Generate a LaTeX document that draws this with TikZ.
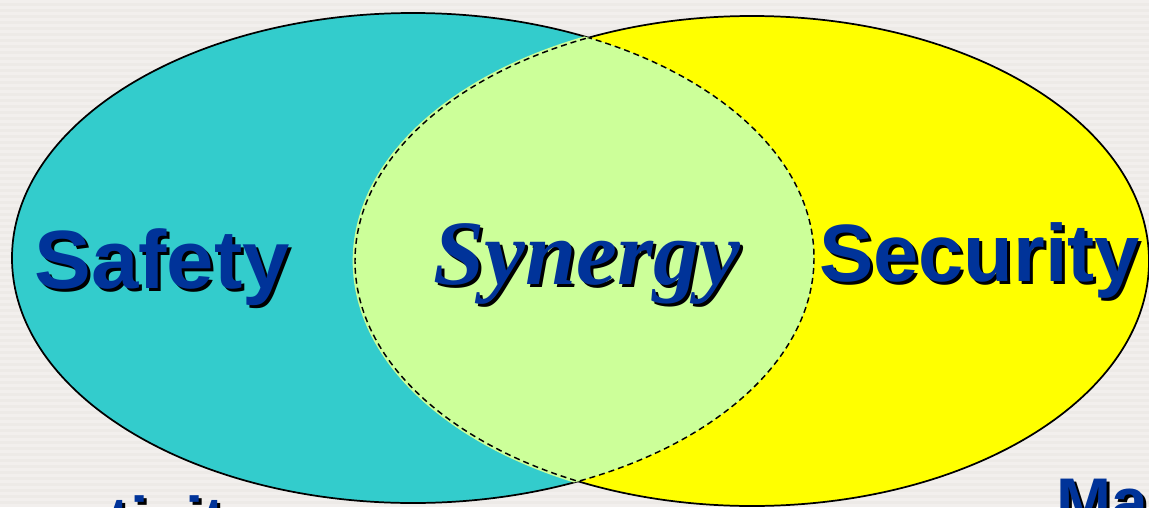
\documentclass[tikz,border=0pt]{standalone}
\usepackage{fontspec}
\setmainfont{Liberation Sans}
\newfontfamily\synfont{Liberation Serif}
\definecolor{bgcol}{HTML}{EDEAE7}
\definecolor{stripecol}{HTML}{F2EFED}
\definecolor{teal}{HTML}{33CCCC}
\definecolor{yel}{HTML}{FFFF00}
\definecolor{lens}{HTML}{CCFF99}
\definecolor{txtblue}{HTML}{003399}
\tikzset{
  outline/.style={draw=black, line width=1.3pt},
  lensline/.style={draw=black, line width=1.1pt, dash pattern=on 4.5pt off 3pt},
  bigtxt/.style={inner sep=0pt, xscale=1.03, font=\bfseries\fontsize{62}{62}\selectfont},
  sectxt/.style={inner sep=0pt, font=\bfseries\fontsize{61}{61}\selectfont},
  syntxt/.style={inner sep=0pt, font=\synfont\bfseries\itshape\fontsize{69}{69}\selectfont},
  smalltxt/.style={inner sep=0pt, font=\bfseries\fontsize{49.5}{49.5}\selectfont},
  shadowtxt/.style={text=black},
  fronttxt/.style={text=txtblue}
}
\begin{document}
\begin{tikzpicture}[x=0.75pt,y=-0.75pt]
\useasboundingbox (0,0) rectangle (1149,507);
\clip (0,0) rectangle (1149,507);
\fill[bgcol] (0,0) rectangle (1149,507);
\foreach \yy in {0,6,...,504} { \fill[stripecol] (0,\yy) rectangle (1149,\yy+3); }
% ellipses
\path[fill=teal, outline] (413,258) ellipse [x radius=401, y radius=245];
\path[fill=yel, outline] (752,261) ellipse [x radius=397, y radius=245];
% lens
\begin{scope}
  \clip (413,258) ellipse [x radius=401, y radius=245];
  \path[fill=lens, draw=lens, line width=3.5pt] (752,261) ellipse [x radius=397, y radius=245];
  \path[lensline] (752,261) ellipse [x radius=397, y radius=245];
\end{scope}
\begin{scope}
  \clip (752,261) ellipse [x radius=397, y radius=245];
  \path[lensline] (413,258) ellipse [x radius=401, y radius=245];
\end{scope}
% texts
\node[bigtxt, shadowtxt, anchor=base west] (safetysh) at (37,291) {Safety};
\node[bigtxt, fronttxt, anchor=base west] (safety) at (34,288) {Safety};
\node[syntxt, shadowtxt, anchor=base west] (synergysh) at (436,287) {Synergy};
\node[syntxt, fronttxt, anchor=base west] (synergy) at (433,284) {Synergy};
\node[sectxt, shadowtxt, anchor=base west] (securitysh) at (822,284) {Security};
\node[sectxt, fronttxt, anchor=base west] (security) at (819,281) {Security};
\node[smalltxt, shadowtxt, anchor=base west] (leftsh) at (111,546) {tivity};
\node[smalltxt, fronttxt, anchor=base west] (left) at (108,543) {tivity};
\node[smalltxt, shadowtxt, anchor=base west] (rightsh) at (1059,527) {Ma};
\node[smalltxt, fronttxt, anchor=base west] (right) at (1056,524) {Ma};
\end{tikzpicture}
\end{document}
